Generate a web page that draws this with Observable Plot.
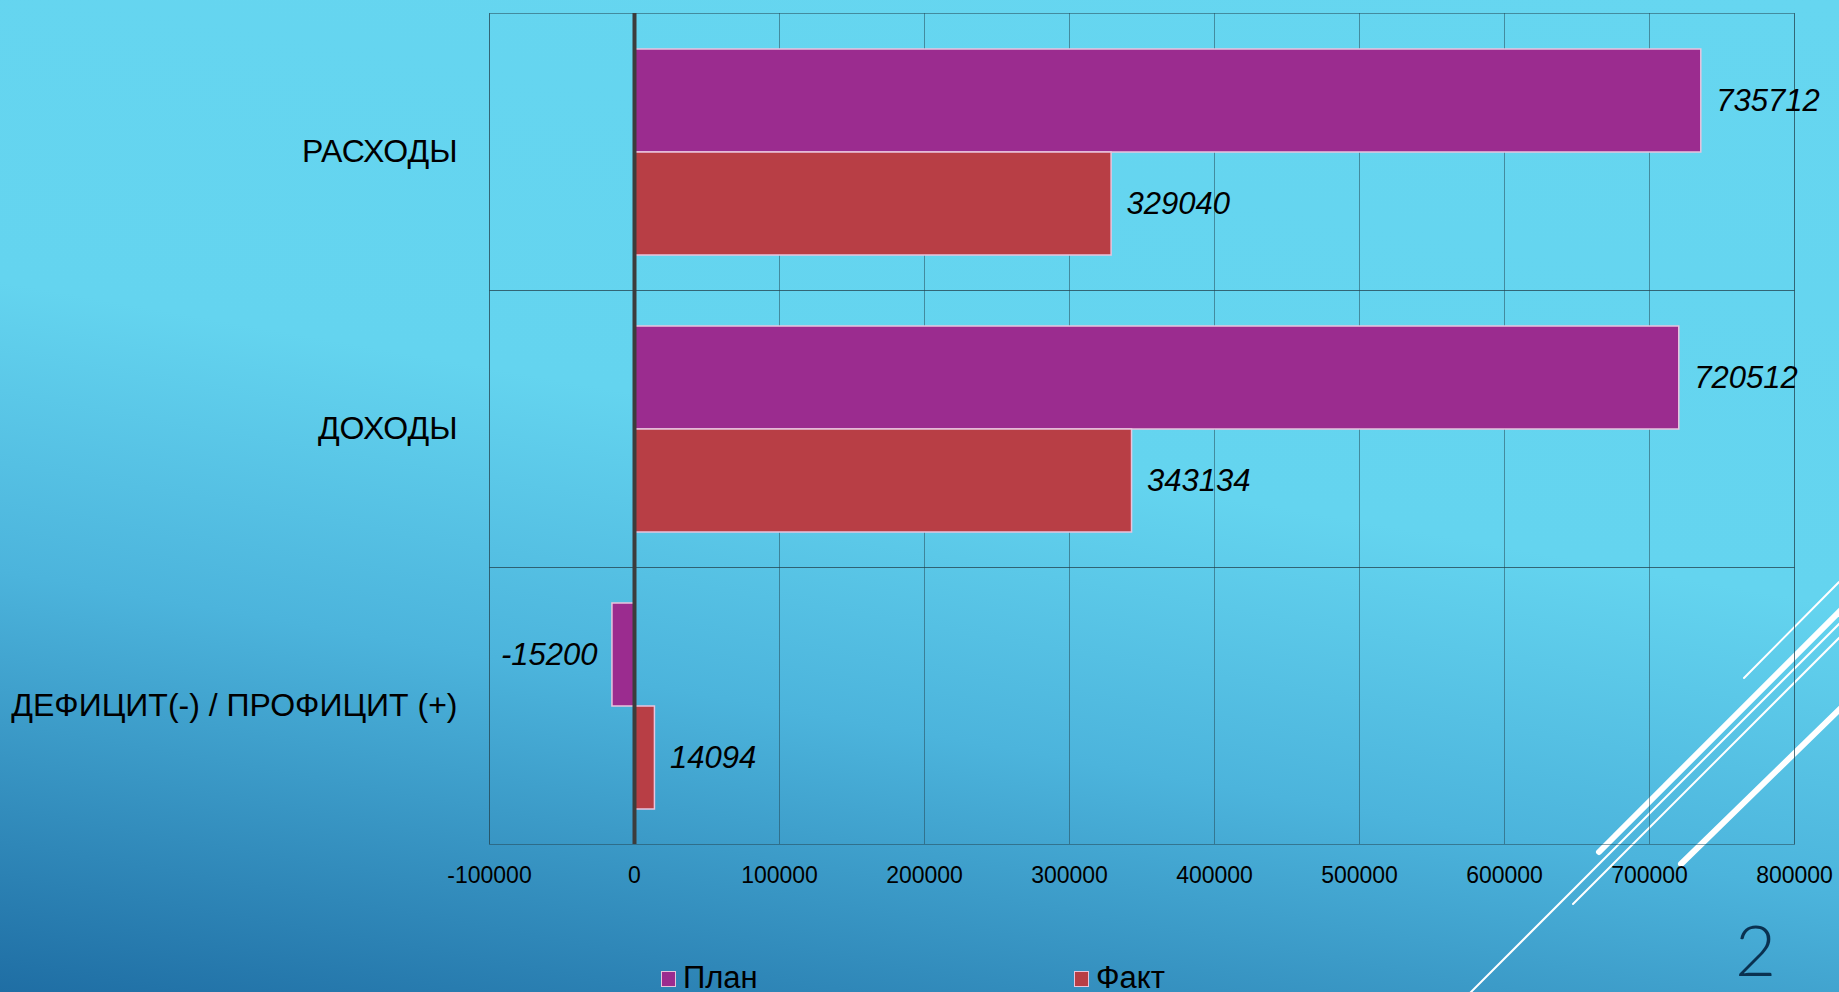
<!DOCTYPE html>
<html><head><meta charset="utf-8">
<script src="https://cdn.jsdelivr.net/npm/d3@7"></script>
<script src="https://cdn.jsdelivr.net/npm/@observablehq/plot@0.6"></script>
<style>
html,body{margin:0;padding:0;width:1839px;height:992px;overflow:hidden;}
body{position:relative;font-family:"Liberation Sans",Arial,sans-serif;
  background:linear-gradient(190deg,#66d6f0 0%,#64d4ef 46%,#4cb4dc 68%,#1f6ea4 100%);}
#chart{position:absolute;left:0;top:0;}
#deco{position:absolute;left:0;top:0;pointer-events:none;}
.leg{position:absolute;top:966px;font-size:31px;line-height:24px;color:#000;white-space:nowrap;}
.sw{position:absolute;top:971px;width:13px;height:14px;border:1.5px solid #e6c4dc;}
#page{position:absolute;left:1735px;top:919px;font-family:Lato,"Liberation Sans",sans-serif;font-weight:300;font-size:71px;line-height:60px;color:#0a3150;}
</style></head>
<body>
<svg id="deco" width="1839" height="992">
  <g stroke="#ffffff" stroke-linecap="round" fill="none">
    <line x1="1744" y1="678" x2="1839" y2="582" stroke-width="2"/>
    <line x1="1599" y1="852" x2="1845" y2="606" stroke-width="6"/>
    <line x1="1469" y1="994" x2="1845" y2="618" stroke-width="2"/>
    <line x1="1573" y1="904" x2="1845" y2="632" stroke-width="2"/>
    <line x1="1681" y1="864" x2="1845" y2="704" stroke-width="6"/>
  </g>
</svg>
<div id="chart"></div>
<div id="legend"></div>
<div id="page">2</div>
<script>
const categories = ["РАСХОДЫ", "ДОХОДЫ", "ДЕФИЦИТ(-) / ПРОФИЦИТ (+)"];
const series = ["План", "Факт"];
const planValues = [735712, 720512, -15200];
const factValues = [329040, 343134, 14094];
const xTicks = [-100000, 0, 100000, 200000, 300000, 400000, 500000, 600000, 700000, 800000];
const seriesColors = ["#9b2c8f", "#b83e45"];

const rows = [];
categories.forEach((c, i) => {
  rows.push({category: c, series: series[0], value: planValues[i]});
  rows.push({category: c, series: series[1], value: factValues[i]});
});

const gridStyle = {stroke: "#22414d", strokeOpacity: 0.5, strokeWidth: 1};

const chart = Plot.plot({
  width: 1839,
  height: 900,
  marginLeft: 489,
  marginRight: 45,
  marginTop: 12,
  marginBottom: 56,
  style: {background: "transparent", fontFamily: "'Liberation Sans', Arial, sans-serif", color: "#000", overflow: "visible"},
  x: {domain: [-100000, 800000], label: null},
  y: {domain: series, paddingInner: 0, paddingOuter: 0.333, axis: null},
  fy: {domain: categories, padding: 0, label: null},
  color: {domain: series, range: seriesColors},
  marks: [
    Plot.gridX(xTicks, gridStyle),
    Plot.frame(gridStyle),
    Plot.barX(rows, {fy: "category", y: "series", x: "value", fill: "series", stroke: "#e9c4de", strokeWidth: 1.5}),
    Plot.ruleX([0], {stroke: "#3c3c3c", strokeWidth: 4}),
    Plot.text(rows, {filter: d => d.value >= 0, fy: "category", y: "series", x: "value", text: d => String(d.value),
      textAnchor: "start", dx: 15, fontSize: 31, fontStyle: "italic", fill: "#000"}),
    Plot.text(rows, {filter: d => d.value < 0, fy: "category", y: "series", x: "value", text: d => String(d.value),
      textAnchor: "end", dx: -15, fontSize: 31, fontStyle: "italic", fill: "#000"}),
    Plot.axisX({ticks: xTicks, tickFormat: d => String(d), tickSize: 0, tickPadding: 22, fontSize: 23, label: null}),
    Plot.axisFy({anchor: "left", tickSize: 0, tickPadding: 32, fontSize: 32, label: null})
  ]
});
document.getElementById("chart").appendChild(chart);

const legend = document.getElementById("legend");
const legendX = [661, 1074];
series.forEach((s, i) => {
  const sw = document.createElement("div");
  sw.className = "sw";
  sw.style.left = legendX[i] + "px";
  sw.style.background = seriesColors[i];
  legend.appendChild(sw);
  const t = document.createElement("div");
  t.className = "leg";
  t.style.left = (legendX[i] + 22) + "px";
  t.textContent = s;
  legend.appendChild(t);
});
</script>
</body></html>
